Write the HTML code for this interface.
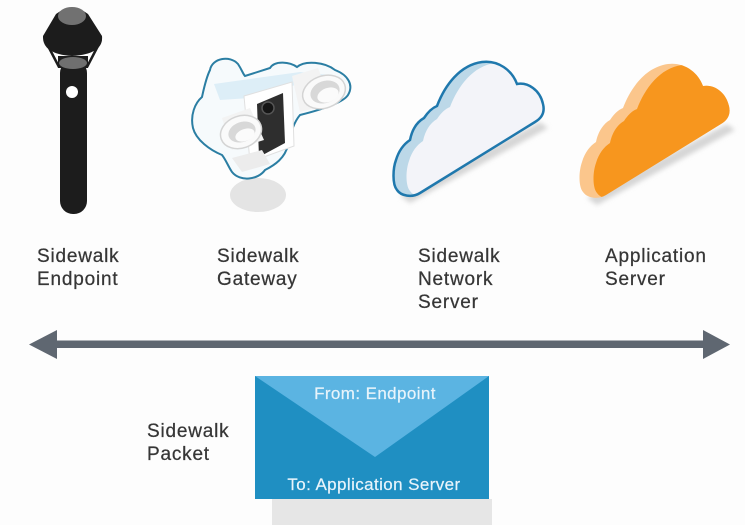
<!DOCTYPE html>
<html>
<head>
<meta charset="utf-8">
<style>
html,body{margin:0;padding:0;background:#fdfdfd;}
svg{display:block;}
.lbl{font-family:"Liberation Sans",sans-serif;font-size:19px;fill:#363636;letter-spacing:0.8px;stroke:#363636;stroke-width:0.25px;}
.env{font-family:"Liberation Sans",sans-serif;font-size:17px;fill:#e8f4fb;letter-spacing:0.4px;stroke:#e8f4fb;stroke-width:0.2px;}
</style>
</head>
<body>
<svg width="745" height="525" viewBox="0 0 745 525" xmlns="http://www.w3.org/2000/svg">
<defs>
  <filter id="blur" x="-20%" y="-50%" width="140%" height="200%"><feGaussianBlur stdDeviation="2.5"/></filter>
  <path id="cloud" d="M397,190 C392,184 393,168 396,160 C399,150 404,144 410,140 C412,130 417,122 424,118 C428,112 432,108 437,106 C445,85 460,65 482,62 C498,60 512,70 517,84 C528,82 540,90 543,104 C545,112 542,118 535,122 L420,193 C412,198 401,196 397,190 Z"/>
  <clipPath id="clipN"><use href="#cloud"/></clipPath>
  <clipPath id="clipO"><use href="#cloud" transform="translate(186,2)"/></clipPath>
</defs>
<rect width="745" height="525" fill="#fdfdfd"/>

<!-- Endpoint device -->
<g>
  <rect x="60" y="60" width="27" height="154" rx="13" fill="#1c1c1c"/>
  <path d="M46,42 L59,67 M100,42 L87,67" stroke="#1c1c1c" stroke-width="2.5" fill="none"/>
  <path d="M58,56 L88,56 L88,68 L58,68 Z" fill="#1c1c1c"/>
  <ellipse cx="73" cy="63" rx="14" ry="6" fill="#6f6f6f"/>
  <path d="M56,14 Q72,2 88,14 L102,36 Q104,54 72,56 Q42,54 43,36 Z" fill="#1c1c1c"/>
  <ellipse cx="72" cy="16" rx="14" ry="9" fill="#717171"/>
  <circle cx="72" cy="92" r="6" fill="#ffffff"/>
</g>

<!-- Gateway device -->
<g>
  <ellipse cx="258" cy="195" rx="28" ry="17" fill="#e4e4e4"/>
  <path d="M210,70 C212,58 230,55 238,64 C242,70 243,74 245,76 L270,68 C275,60 290,62 297,67 C305,60 325,62 335,70 C348,75 354,85 348,95 C343,103 320,110 300,115 C294,122 291,132 288,145 C285,158 275,165 265,170 C258,180 240,182 232,172 C228,166 226,160 222,155 C210,150 196,140 193,128 C190,115 195,103 202,97 C204,88 206,78 210,70 Z" fill="#f6fafc" stroke="#2b7ea3" stroke-width="2"/>
  <polygon points="214,84 300,72 330,75 250,98 220,100" fill="#ddeef7"/>
  <!-- right lamp -->
  <path d="M292,76 L318,68 L332,104 L300,112 Z" fill="#f3f3f3"/>
  <ellipse cx="324" cy="92" rx="22" ry="16" transform="rotate(-20 324 92)" fill="#fafafa" stroke="#d4d4d4" stroke-width="1.5"/>
  <ellipse cx="325" cy="92" rx="15" ry="11" transform="rotate(-20 325 92)" fill="#d8d8d8"/>
  <ellipse cx="328" cy="95" rx="11" ry="7" transform="rotate(-20 328 95)" fill="#fbfbfb"/>
  <!-- central box -->
  <polygon points="244,96 292,82 294,146 250,162" fill="#ffffff" stroke="#e0e0e0" stroke-width="1"/>
  <polygon points="257,104 283,93 285,143 259,157" fill="#2e2e2e"/>
  <circle cx="268" cy="108" r="6" fill="#151515" stroke="#555" stroke-width="1.5"/>
  <!-- left lamp -->
  <path d="M222,118 L250,108 L264,140 L232,150 Z" fill="#f3f3f3"/>
  <ellipse cx="241" cy="132" rx="21" ry="16" transform="rotate(-20 241 132)" fill="#fafafa" stroke="#d4d4d4" stroke-width="1.5"/>
  <ellipse cx="242" cy="132" rx="14" ry="10" transform="rotate(-20 242 132)" fill="#d8d8d8"/>
  <ellipse cx="245" cy="135" rx="10" ry="6" transform="rotate(-20 245 135)" fill="#fbfbfb"/>
  <polygon points="232,158 262,150 270,164 242,172" fill="#ececec"/>
</g>

<!-- Network cloud -->
<polygon points="400,196 540,122 548,128 410,203" fill="#d6d6d6" filter="url(#blur)"/>
<g>
  <use href="#cloud" fill="#bcd8e8"/>
  <g clip-path="url(#clipN)">
    <use href="#cloud" transform="translate(13,1)" fill="#f3f4f9"/>
  </g>
  <use href="#cloud" fill="none" stroke="#1f78ad" stroke-width="2.5"/>
</g>

<!-- Application cloud -->
<polygon points="587,198 727,124 735,130 597,205" fill="#d6d6d6" filter="url(#blur)"/>
<g>
  <use href="#cloud" transform="translate(186,2)" fill="#fbc68c"/>
  <g clip-path="url(#clipO)">
    <use href="#cloud" transform="translate(200,3)" fill="#f7961e"/>
  </g>
</g>

<!-- Labels -->
<text class="lbl" x="37" y="262">Sidewalk</text>
<text class="lbl" x="37" y="285">Endpoint</text>
<text class="lbl" x="217" y="262">Sidewalk</text>
<text class="lbl" x="217" y="285">Gateway</text>
<text class="lbl" x="418" y="262">Sidewalk</text>
<text class="lbl" x="418" y="285">Network</text>
<text class="lbl" x="418" y="308">Server</text>
<text class="lbl" x="605" y="262">Application</text>
<text class="lbl" x="605" y="285">Server</text>

<!-- Double arrow -->
<rect x="55" y="340.5" width="650" height="7.5" fill="#5f6771"/>
<polygon points="29,344.5 57,330 57,359" fill="#5f6771"/>
<polygon points="730,344.5 703,330 703,359" fill="#5f6771"/>

<!-- Packet -->
<text class="lbl" x="147" y="437">Sidewalk</text>
<text class="lbl" x="147" y="460">Packet</text>
<rect x="272" y="499" width="220" height="26" fill="#e6e6e6"/>
<rect x="255" y="376" width="234" height="123" fill="#1f8fc2"/>
<polygon points="255,376 489,376 375,457" fill="#5bb4e2"/>
<text class="env" x="375" y="399" text-anchor="middle">From: Endpoint</text>
<text class="env" x="374" y="490" text-anchor="middle">To: Application Server</text>
</svg>
</body>
</html>
